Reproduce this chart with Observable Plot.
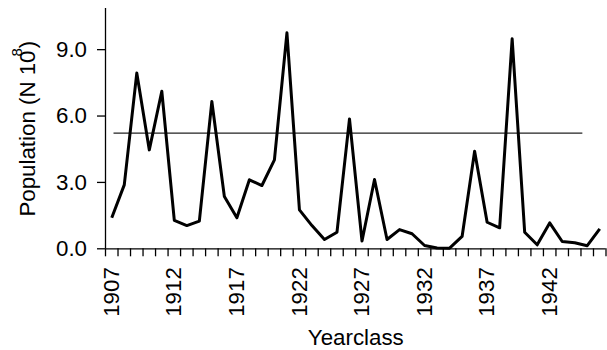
<!DOCTYPE html>
<html>
<head>
<meta charset="utf-8">
<script src="https://cdn.jsdelivr.net/npm/d3@7"></script>
<script src="https://cdn.jsdelivr.net/npm/@observablehq/plot@0.6"></script>
<style>
  html, body { margin: 0; padding: 0; background: #fff; }
  #chart svg { display: block; }
</style>
</head>
<body>
<div id="chart"></div>
<script>
// ---- data ----
const years = [1907,1908,1909,1910,1911,1912,1913,1914,1915,1916,
               1917,1918,1919,1920,1921,1922,1923,1924,1925,1926,
               1927,1928,1929,1930,1931,1932,1933,1934,1935,1936,
               1937,1938,1939,1940,1941,1942,1943,1944,1945,1946];
const population = [1.40,2.89,7.94,4.47,7.12,1.28,1.05,1.25,6.66,2.36,
                    1.40,3.12,2.86,4.02,9.76,1.76,1.05,0.42,0.75,5.87,
                    0.35,3.13,0.42,0.87,0.68,0.15,0.04,0.03,0.56,4.41,
                    1.20,0.95,9.49,0.75,0.18,1.17,0.33,0.27,0.14,0.90];
const xLabelYears = [1907,1912,1917,1922,1927,1932,1937,1942];
const yTicks = [0,3,6,9];
const referenceLevel = 5.23;
const referenceStart = 1907.18;
const referenceEnd = 1944.65;
const xTitle = "Yearclass";
const yLabelMain = "Population (N 10";
const yLabelSup = "8";
const yLabelEnd = ")";
const yLabel = yLabelMain + yLabelSup + yLabelEnd;

const rows = years.map((yr, i) => ({year: yr, value: population[i]}));
const xMin = years[0] - 0.5, xMax = years[years.length - 1] + 0.5;
const yMax = 10.86;
const font = "22.3px";

const chart = Plot.plot({
  width: 607,
  height: 350,
  marginLeft: 105,
  marginRight: 1.5,
  marginTop: 8,
  marginBottom: 101.7,
  style: {fontFamily: "'Liberation Sans', Arial, Helvetica, sans-serif", fontSize: font, color: "#000", background: "#fff"},
  x: {domain: [xMin, xMax]},
  y: {domain: [0, yMax]},
  marks: [
    Plot.axisY({ticks: yTicks, tickFormat: d3.format(".1f"), tickSize: 8, tickPadding: 10.5, fontSize: font, strokeWidth: 1.3, label: null}),
    Plot.axisX({ticks: d3.range(xMin, xMax + 0.01, 1), tickFormat: () => "", tickSize: 8, strokeWidth: 1.3, label: null}),
    Plot.ruleX([xMin], {y1: 0, y2: yMax, stroke: "#000", strokeWidth: 1.3}),
    Plot.ruleY([0], {x1: xMin, x2: xMax, stroke: "#000", strokeWidth: 1.3}),
    Plot.text(xLabelYears, {x: d => d, y: () => 0, text: d => String(d), rotate: -90, textAnchor: "end", lineAnchor: "middle", dy: 18.4, fontSize: font, fill: "#000"}),
    Plot.ruleY([referenceLevel], {x1: referenceStart, x2: referenceEnd, stroke: "#222", strokeWidth: 1.2}),
    Plot.line(rows, {x: "year", y: "value", stroke: "#000", strokeWidth: 3, strokeLinejoin: "round", strokeLinecap: "butt"}),
    Plot.text([xTitle], {frameAnchor: "middle", dy: 88.8 + (248.3 - 128.15), lineAnchor: "middle", fontSize: font, fill: "#000"}),
    Plot.text([yLabel], {frameAnchor: "middle", rotate: -90, dx: -327.5, lineAnchor: "middle", fontSize: font, fill: "#000"})
  ]
});

d3.select(chart).selectAll("text").filter(function() { return this.textContent === yLabel; }).each(function() {
  const t = d3.select(this);
  t.text(null);
  t.append("tspan").text(yLabelMain);
  t.append("tspan").attr("font-size", 15).attr("dx", -6).attr("dy", -13).text(yLabelSup);
  t.append("tspan").attr("dy", 13).text(yLabelEnd);
});

document.getElementById("chart").appendChild(chart);
</script>
</body>
</html>
